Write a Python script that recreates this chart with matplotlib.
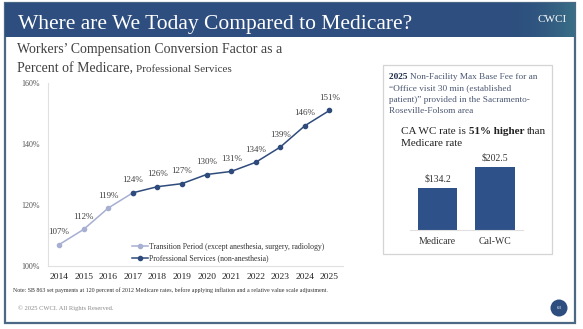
import numpy as np
import matplotlib
matplotlib.use("Agg")
import matplotlib.pyplot as plt
from matplotlib.patches import Rectangle, Circle

plt.rcParams['font.family'] = ['Liberation Serif', 'DejaVu Serif']

# conversion factor as percent of Medicare
years = [str(y) for y in range(2014, 2026)]
transition_years = years[:4]
transition_pct = [107, 112, 119, 124]
prof_years = years[3:]
prof_pct = [124, 126, 127, 130, 131, 134, 139, 146, 151]

# 2025 office visit fee
fee_labels = ['Medicare', 'Cal-WC']
fee_values = [134.2, 202.5]

W, H = 583, 329
NAVY = '#2d4e7e'
DARK = '#2f4b7c'
LIGHT = '#a7afd2'

fig = plt.figure(figsize=(W / 100, H / 100), dpi=100)
fig.patch.set_facecolor('white')
r = fig.canvas.get_renderer()


def fx(x):
    return x / W


def fy(y):
    return 1 - y / H


def rect(x0, y0, x1, y1, **kw):
    fig.add_artist(Rectangle((fx(x0), fy(y1)), fx(x1 - x0), (y1 - y0) / H,
                             transform=fig.transFigure, **kw))


def text_run(x, y, parts, **common):
    # several differently styled pieces on one baseline
    for s, kw in parts:
        props = dict(common, **kw)
        t = fig.text(fx(x), fy(y), s, va='baseline', ha='left', **props)
        x += t.get_window_extent(renderer=r).width


# slide frame and title banner
rect(5, 3, 575, 323, facecolor='white', edgecolor='#4b6985', lw=1.6, zorder=0)
rect(5, 3, 575, 37, facecolor=NAVY, edgecolor='none', zorder=1)
gax = fig.add_axes([fx(500), fy(37), fx(75), 34 / H], zorder=1.5)
grad = np.linspace(0, 1, 200) ** 2
c0 = np.array(matplotlib.colors.to_rgb(NAVY))
c1 = np.array(matplotlib.colors.to_rgb('#3a6f86'))
gax.imshow((c0 + grad[:, None] * (c1 - c0))[None, :, :], aspect='auto')
gax.axis('off')

fig.text(fx(18), fy(29), 'Where are We Today Compared to Medicare?', color='white',
         fontsize=15.5, va='baseline', zorder=3)
fig.text(fx(552), fy(20), 'CWCI', color='white', fontsize=8, ha='center',
         va='center', zorder=3)

text_run(17, 53, [('Workers\u2019 Compensation Conversion Factor as a', {})],
         fontsize=10, color='#404040')
text_run(17, 72, [('Percent of Medicare, ', {}),
                  ('Professional Services', {'fontsize': 8})],
         fontsize=10, color='#404040')

# line chart
ax = fig.add_axes([fx(48), fy(266), fx(295), 183 / H])
ax.plot(transition_years, transition_pct, color=LIGHT, lw=1.1, marker='o', ms=3,
        label='Transition Period (except anesthesia, surgery, radiology)')
ax.plot(prof_years, prof_pct, color=DARK, lw=1.1, marker='o', ms=3,
        label='Professional Services (non-anesthesia)')
for yr, v in zip(years, transition_pct + prof_pct[1:]):
    ax.annotate(f'{v}%', (yr, v), xytext=(0, 6), textcoords='offset points',
                ha='center', va='bottom', fontsize=6.5, color='#404040')
ax.set_xlim(-0.45, 11.55)
ax.set_ylim(100, 160)
ax.set_yticks([100, 120, 140, 160])
ax.set_yticklabels(['100%', '120%', '140%', '160%'])
ax.tick_params(axis='y', length=0, pad=6, labelsize=5.8, labelcolor='#555555')
ax.tick_params(axis='x', length=0, pad=5, labelsize=6.8, labelcolor='#222222')
for s in ['top', 'right']:
    ax.spines[s].set_visible(False)
for s in ['left', 'bottom']:
    ax.spines[s].set_color('#e0e0e0')
    ax.spines[s].set_linewidth(0.8)
ax.set_facecolor('none')
ax.legend(loc='lower left', bbox_to_anchor=(0.285, 0.02), frameon=False,
          fontsize=5.6, handlelength=2.0, handletextpad=0.2, labelspacing=0.45,
          borderpad=0, borderaxespad=0, labelcolor='#333333')

fig.text(fx(13), fy(292), 'Note: SB 863 set payments at 120 percent of 2012 Medicare rates, '
         'before applying inflation and a relative value scale adjustment.',
         fontsize=4.3, color='#333333', va='baseline')
fig.text(fx(18), fy(310), '\u00a9 2025 CWCI. All Rights Reserved.', fontsize=4.7,
         color='#8a8a8a', va='baseline')

# fee comparison box
rect(383, 65, 552, 254, facecolor='white', edgecolor='#d4d4d4', lw=0.9, zorder=1)
box_kw = dict(fontsize=6.7, color='#4a5670', zorder=3)
text_run(389, 79, [('2025 ', {'fontweight': 'bold', 'color': '#1f2d4a'}),
                   ('Non-Facility Max Base Fee for an', {})], **box_kw)
text_run(389, 90, [('\u201cOffice visit 30 min (established', {})], **box_kw)
text_run(389, 102, [('patient)\u201d provided in the Sacramento-', {})], **box_kw)
text_run(389, 113, [('Roseville-Folsom area', {})], **box_kw)
text_run(401, 134, [('CA WC rate is ', {}), ('51% higher ', {'fontweight': 'bold'}),
                    ('than', {})], fontsize=8, color='#222222', zorder=3)
text_run(401, 146, [('Medicare rate', {})], fontsize=8, color='#222222', zorder=3)

bx = fig.add_axes([fx(410), fy(230), fx(112.6), 77.8 / H], zorder=2)
bars = bx.bar(fee_labels, fee_values, width=0.68, color='#2f5189')
for b, v in zip(bars, fee_values):
    bx.text(b.get_x() + b.get_width() / 2, v + 14, f'${v}', ha='center',
            va='bottom', fontsize=7, color='#333333')
bx.set_xlim(-0.48, 1.48)
bx.set_ylim(0, 250)
bx.set_yticks([])
bx.tick_params(axis='x', length=0, pad=5, labelsize=7, labelcolor='#333333')
for s in ['top', 'right', 'left']:
    bx.spines[s].set_visible(False)
bx.spines['bottom'].set_color('#e0e0e0')
bx.spines['bottom'].set_linewidth(0.8)
bx.set_facecolor('none')

# page number
fig.add_artist(Circle((559 / 100, (H - 308) / 100), 0.085,
                      transform=fig.dpi_scale_trans, facecolor=NAVY, edgecolor='none'))
fig.text(fx(559), fy(308), '63', color='white', fontsize=3.5, ha='center',
         va='center')

fig.savefig('out.png', dpi=100, facecolor='white')
